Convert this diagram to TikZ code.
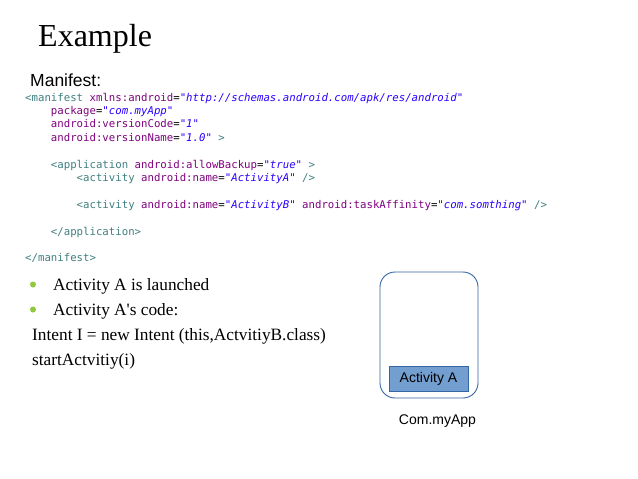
\documentclass[tikz,border=0pt]{standalone}
\usepackage{fontspec}
\setmainfont{Liberation Serif}
\setsansfont{Liberation Sans}
\setmonofont{DejaVu Sans Mono}
\definecolor{tagc}{RGB}{63,127,127}
\definecolor{attrc}{RGB}{127,0,127}
\definecolor{valc}{RGB}{42,0,255}
\definecolor{bulc}{RGB}{146,200,62}
\definecolor{boxline}{RGB}{52,101,164}
\definecolor{boxfill}{RGB}{114,159,207}
\newcommand{\tg}[1]{\textcolor{tagc}{#1}}
\newcommand{\an}[1]{\textcolor{attrc}{#1}}
\newcommand{\av}[1]{\textcolor{valc}{\itshape #1}}
\begin{document}
\begin{tikzpicture}[x=1pt,y=-1pt,
  codeline/.style={anchor=base west,inner sep=0pt,font=\ttfamily\fontsize{10.7}{12}\selectfont},
  bodytext/.style={anchor=base west,inner sep=0pt,font=\rmfamily\fontsize{17.3}{20}\selectfont},
  bulletdot/.style={circle,fill=bulc,inner sep=0pt,minimum size=6pt},
  appbox/.style={draw=boxline,line width=0.9pt,rounded corners=15pt},
  actbox/.style={draw=boxline,fill=boxfill,line width=0.8pt,inner sep=0pt,minimum width=79pt,minimum height=25pt,font=\sffamily\fontsize{14}{16}\selectfont},
  sanslabel/.style={anchor=base,inner sep=0pt,font=\sffamily\fontsize{14}{16}\selectfont}]
\useasboundingbox[fill=white] (0,0) rectangle (638,479);
% title
\node[anchor=base west,inner sep=0pt,font=\rmfamily\fontsize{32}{36}\selectfont] (title) at (38,46) {Example};
\node[anchor=base west,inner sep=0pt,font=\sffamily\fontsize{17.5}{20}\selectfont] (manlabel) at (30,86) {Manifest:};
% code
\def\cw{6.44}
\node[codeline] (c1) at (25,101) {\tg{<manifest} \an{xmlns:android}=\av{"http://schemas.android.com/apk/res/android"}};
\node[codeline] (c2) at (25+4*\cw,114.4) {\an{package}=\av{"com.myApp"}};
\node[codeline] (c3) at (25+4*\cw,127.8) {\an{android:versionCode}=\av{"1"}};
\node[codeline] (c4) at (25+4*\cw,141.2) {\an{android:versionName}=\av{"1.0"} \tg{>}};
\node[codeline] (c6) at (25+4*\cw,168) {\tg{<application} \an{android:allowBackup}=\av{"true"} \tg{>}};
\node[codeline] (c7) at (25+8*\cw,181.4) {\tg{<activity} \an{android:name}=\av{"ActivityA"} \tg{/>}};
\node[codeline] (c9) at (25+8*\cw,208.2) {\tg{<activity} \an{android:name}=\av{"ActivityB"} \an{android:taskAffinity}=\av{"com.somthing"} \tg{/>}};
\node[codeline] (c11) at (25+4*\cw,235) {\tg{</application>}};
\node[codeline] (c13) at (25,261.8) {\tg{</manifest>}};
% bullets and text
\node[bulletdot] (b1) at (33,284.5) {};
\node[bulletdot] (b2) at (33,309.5) {};
\node[bodytext] (t1) at (53,290) {Activity A is launched};
\node[bodytext] (t2) at (53,315) {Activity A\textquotesingle s code:};
\node[bodytext] (t3) at (32,340) {Intent I = new Intent (this,ActvitiyB.class)};
\node[bodytext] (t4) at (32,365) {startActvitiy(i)};
% app box
\draw[appbox] (380,272) rectangle (478,398);
\node[actbox] (act) at (428.5,378.5) {Activity A};
\node[sanslabel] (app) at (437.5,424) {Com.myApp};
\end{tikzpicture}
\end{document}
